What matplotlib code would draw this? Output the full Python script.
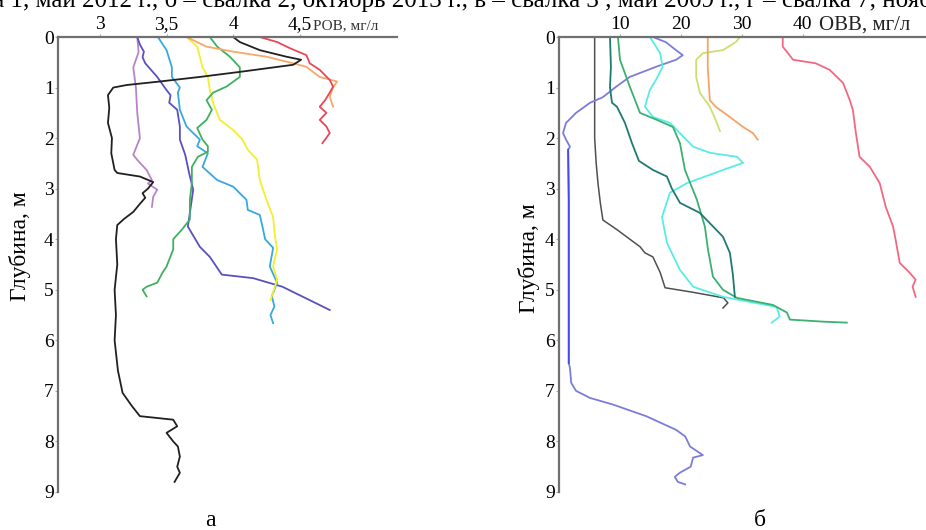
import matplotlib
matplotlib.use('Agg')
import matplotlib.pyplot as plt

plt.rcParams['font.family'] = ['Liberation Serif', 'DejaVu Serif']

# --- РОВ (panel а): depth, m / concentration, mg/l ---
pov_black_d = [0, 0.1, 0.26, 0.39, 0.45, 0.55, 0.62, 0.69, 0.79, 0.88, 0.95, 1.0, 1.15, 1.4, 1.7, 2.0,
               2.3, 2.63, 2.69, 2.76, 2.87, 3.0, 3.09, 3.18, 3.3, 3.46, 3.6, 3.72, 4.0, 4.5, 5.0, 5.5,
               6.0, 6.6, 7.04, 7.3, 7.5, 7.57, 7.7, 7.83, 8.0, 8.1, 8.3, 8.5, 8.62, 8.8]
pov_black_v = [4.0, 4.05, 4.2, 4.4, 4.51, 4.45, 4.25, 4.05, 3.75, 3.45, 3.2, 3.1, 3.06, 3.07, 3.06, 3.09,
               3.085, 3.11, 3.13, 3.3, 3.40, 3.36, 3.32, 3.34, 3.3, 3.25, 3.18, 3.13, 3.12, 3.13, 3.11, 3.12,
               3.11, 3.135, 3.17, 3.24, 3.3, 3.55, 3.58, 3.50, 3.55, 3.585, 3.60, 3.58, 3.60, 3.56]

pov_purple_d = [0, 0.3, 0.6, 1.0, 1.5, 2.0, 2.33, 2.43, 2.63, 2.83, 2.9, 3.02, 3.16, 3.36]
pov_purple_v = [3.28, 3.29, 3.25, 3.27, 3.28, 3.30, 3.25, 3.28, 3.35, 3.39, 3.36, 3.43, 3.40, 3.39]

pov_blue_d = [0, 0.15, 0.29, 0.4, 0.52, 0.79, 1.05, 1.15, 1.3, 1.44, 1.77, 2.03, 2.33, 2.7, 3.02, 3.48,
              3.75, 4.15, 4.35, 4.7, 4.77, 4.94, 5.4]
pov_blue_v = [3.28, 3.30, 3.33, 3.32, 3.34, 3.43, 3.50, 3.53, 3.52, 3.58, 3.60, 3.60, 3.64, 3.67, 3.70, 3.675,
              3.66, 3.75, 3.825, 3.915, 4.15, 4.37, 4.725]

pov_sky_d = [0, 0.26, 0.6, 0.79, 1.0, 1.1, 1.44, 1.77, 1.9, 2.03, 2.16, 2.3, 2.57, 2.83, 2.96, 3.22,
             3.42, 3.52, 3.75, 4.0, 4.17, 4.54, 4.86, 5.13, 5.33, 5.5, 5.66]
pov_sky_v = [3.435, 3.5, 3.54, 3.54, 3.6, 3.585, 3.6, 3.65, 3.70, 3.75, 3.73, 3.81, 3.77, 3.88, 4.0, 4.10,
             4.11, 4.2, 4.22, 4.24, 4.30, 4.275, 4.33, 4.29, 4.31, 4.28, 4.30]

pov_yellow_d = [0, 0.19, 0.39, 0.6, 0.79, 1.05, 1.31, 1.64, 1.84, 2.03, 2.23, 2.43, 2.83, 3.22, 3.56,
                3.87, 4.2, 4.54, 4.8, 5.13, 5.2]
pov_yellow_v = [3.65, 3.73, 3.75, 3.77, 3.81, 3.825, 3.85, 3.9, 4.0, 4.07, 4.11, 4.18, 4.2, 4.25, 4.30,
                4.31, 4.33, 4.30, 4.33, 4.29, 4.28]

pov_green_d = [0, 0.19, 0.39, 0.6, 0.79, 0.98, 1.1, 1.25, 1.44, 1.64, 1.8, 2.03, 2.16, 2.27, 2.37, 2.57,
               2.89, 3.22, 3.61, 3.81, 4.0, 4.2, 4.54, 4.66, 4.86, 4.94, 5.0, 5.13]
pov_green_v = [3.825, 3.88, 3.975, 4.05, 4.05, 3.95, 3.85, 3.80, 3.84, 3.80, 3.73, 3.77, 3.81, 3.81, 3.735, 3.69,
               3.69, 3.675, 3.675, 3.615, 3.55, 3.55, 3.50, 3.47, 3.43, 3.35, 3.32, 3.35]

pov_orange_d = [0, 0.19, 0.29, 0.39, 0.52, 0.59, 0.79, 0.88, 1.0, 1.18, 1.38]
pov_orange_v = [3.65, 3.80, 4.0, 4.25, 4.45, 4.55, 4.65, 4.78, 4.75, 4.725, 4.75]

pov_red_d = [0, 0.1, 0.22, 0.36, 0.52, 0.65, 0.85, 0.98, 1.1, 1.25, 1.38, 1.5, 1.64, 1.77, 1.9, 2.03, 2.1]
pov_red_v = [4.2, 4.33, 4.425, 4.55, 4.575, 4.65, 4.725, 4.75, 4.725, 4.69, 4.65, 4.70, 4.65, 4.70, 4.725, 4.69, 4.67]

# --- ОВВ (panel б) ---
ovv_black_d = [0, 2.0, 2.5, 2.9, 3.3, 3.62, 3.81, 4.15, 4.27, 4.35, 4.66, 4.96, 5.05, 5.16, 5.26, 5.36]
ovv_black_v = [5.85, 5.85, 6.1, 6.4, 6.8, 7.2, 9.5, 13.3, 14.1, 15.4, 16.6, 17.4, 22.0, 27.0, 27.7, 26.9]

ovv_teal_d = [0, 0.59, 0.99, 1.3, 1.38, 1.7, 2.1, 2.45, 2.63, 2.76, 3.0, 3.28, 3.48, 3.95, 4.27, 4.7, 5.14]
ovv_teal_v = [8.36, 8.52, 8.36, 8.69, 9.51, 10.82, 11.97, 13.11, 15.41, 17.7, 18.52, 19.84, 23.11, 26.89,
              28.03, 28.52, 28.85]

ovv_green_d = [0, 0.45, 0.99, 1.5, 1.64, 1.78, 2.1, 2.63, 3.22, 3.75, 4.2, 4.74, 5.0, 5.16, 5.3, 5.45,
               5.59, 5.63, 5.65]
ovv_green_v = [9.67, 10.0, 11.64, 13.28, 16.07, 18.69, 19.84, 20.66, 22.62, 23.93, 24.43, 25.25, 26.89,
               29.18, 35.08, 37.38, 37.87, 43.28, 47.21]

ovv_cyan_d = [0, 0.32, 0.59, 0.85, 1.05, 1.38, 1.58, 1.7, 2.17, 2.29, 2.37, 2.49, 2.63, 2.89, 3.08, 3.56,
              4.07, 4.6, 4.94, 5.14, 5.34, 5.53, 5.65]
ovv_cyan_v = [14.9, 16.6, 17.0, 15.9, 14.9, 14.1, 15.4, 18.2, 22.0, 24.75, 29.2, 30.2, 26.9, 21.0, 18.2, 16.9,
              17.7, 19.8, 22.0, 26.9, 35.7, 36.2, 34.9]

ovv_violet_d = [0, 0.1, 0.26, 0.36, 0.45, 0.59, 0.79, 0.99, 1.19, 1.3, 1.5, 1.7, 1.9, 2.03, 2.17, 2.23,
                3.2, 5.8, 6.45, 6.55, 6.84, 7.0, 7.14, 7.27, 7.5, 7.77, 7.9, 8.1, 8.27, 8.32, 8.5, 8.62,
                8.7, 8.8, 8.85]
ovv_violet_v = [15.4, 17.5, 19.2, 20.3, 19.2, 15.9, 11.6, 9.3, 7.2, 5.1, 2.8, 1.15, 0.66, 1.15, 1.8, 1.5,
                1.6, 1.6, 1.6, 1.8, 2.0, 2.8, 5.1, 8.85, 14.3, 19.2, 20.7, 21.5, 23.6, 22.0, 21.6, 19.8,
                19.0, 19.5, 20.7]

ovv_lime_d = [0, 0.1, 0.26, 0.32, 0.45, 0.79, 1.1, 1.38, 1.64, 1.86]
ovv_lime_v = [29.7, 29.0, 26.9, 23.6, 22.5, 22.5, 23.1, 24.75, 25.7, 26.4]

ovv_orange_d = [0, 0.6, 1.25, 1.38, 1.58, 1.78, 1.9, 2.03]
ovv_orange_v = [24.4, 24.4, 24.75, 25.7, 28.0, 30.2, 31.8, 32.6]

ovv_pink_d = [0, 0.19, 0.45, 0.52, 0.65, 0.91, 1.25, 1.44, 1.9, 2.37, 2.57, 2.89, 3.36, 3.75, 4.0, 4.47,
              4.66, 4.8, 4.94, 5.14]
ovv_pink_v = [36.7, 36.7, 38.4, 42.1, 44.4, 46.6, 47.7, 48.2, 48.7, 49.3, 51.0, 52.6, 53.6, 54.8, 55.2,
              55.9, 57.5, 58.5, 58.0, 58.5]

depth_ticks = [0, 1, 2, 3, 4, 5, 6, 7, 8, 9]
pov_ticks = [3, 3.5, 4, 4.5]
pov_labels = ['3', '3,5', '4', '4,5']
ovv_ticks = [10, 20, 30, 40]
ovv_labels = ['10', '20', '30', '40']

# caption of the source figure, cut by the top edge of the picture
caption = ('лка 1, май 2012 г., б – свалка 2, октябрь 2013 г., в – свалка 3 , '
           'май 2009 г., г – свалка 7, ноябрь')

W, H = 926, 530
fig = plt.figure(figsize=(W / 100, H / 100), dpi=100)


def px_axes(x0, y0, x1, y1):
    return fig.add_axes([x0 / W, 1 - y1 / H, (x1 - x0) / W, (y1 - y0) / H])


def style(ax):
    for s in ['right', 'bottom']:
        ax.spines[s].set_visible(False)
    for s in ['left', 'top']:
        ax.spines[s].set_color('#707070')
        ax.spines[s].set_linewidth(1.6)
    ax.xaxis.set_ticks_position('top')
    ax.tick_params(length=2, width=0.8, color='#aaaaaa', labelsize=14, pad=1)
    ax.set_ylim(9, 0)
    ax.set_yticks(depth_ticks)
    ax.set_ylabel('Глубина, м', fontsize=17)


ax1 = px_axes(58, 37, 397, 492)
style(ax1)
ax1.set_xlim(2.685, 5.23)
ax1.set_xticks(pov_ticks, pov_labels)
ax1.yaxis.set_label_coords(-0.08, 0.54)

lw = 1.3
ax1.plot(pov_purple_v, pov_purple_d, color='#b884c8', lw=lw)
ax1.plot(pov_blue_v, pov_blue_d, color='#5a50c0', lw=lw)
ax1.plot(pov_sky_v, pov_sky_d, color='#38a8e0', lw=lw)
ax1.plot(pov_yellow_v, pov_yellow_d, color='#f2ee30', lw=lw)
ax1.plot(pov_green_v, pov_green_d, color='#40b060', lw=lw)
ax1.plot(pov_orange_v, pov_orange_d, color='#f8a868', lw=lw)
ax1.plot(pov_red_v, pov_red_d, color='#e84858', lw=lw)
ax1.plot(pov_black_v, pov_black_d, color='#202020', lw=lw)
ax1.text(4.6, 1.01, 'РОВ, мг/л', transform=ax1.get_xaxis_transform(), fontsize=11,
         ha='left', va='bottom', color='#333333')

ax2 = px_axes(559, 37, 926, 492)
style(ax2)
ax2.set_xlim(0, 60.2)
ax2.set_xticks(ovv_ticks, ovv_labels)
ax2.yaxis.set_label_coords(-0.052, 0.515)

ax2.plot(ovv_black_v, ovv_black_d, color='#505050', lw=1.1)
ax2.plot(ovv_violet_v, ovv_violet_d, color='#7c7cdc', lw=lw)
ax2.plot(ovv_violet_v[15:19], ovv_violet_d[15:19], color='#4848f0', lw=lw)
ax2.plot(ovv_cyan_v, ovv_cyan_d, color='#58ece6', lw=lw)
ax2.plot(ovv_green_v, ovv_green_d, color='#3cb070', lw=lw)
ax2.plot(ovv_teal_v, ovv_teal_d, color='#1f7a72', lw=lw)
ax2.plot(ovv_lime_v, ovv_lime_d, color='#cce070', lw=lw)
ax2.plot(ovv_orange_v, ovv_orange_d, color='#f4a468', lw=lw)
ax2.plot(ovv_pink_v, ovv_pink_d, color='#f26882', lw=lw)
ax2.text(42.6, 1.006, 'ОВВ, мг/л', transform=ax2.get_xaxis_transform(), fontsize=15,
         ha='left', va='bottom', color='#222222')

fig.text(210 / W, 1 - 521 / H, 'а', ha='center', va='center', fontsize=17)
fig.text(760 / W, 1 - 521 / H, 'б', ha='center', va='center', fontsize=17)
fig.text(-31 / W, 1 - 7 / H, caption, ha='left', va='baseline', fontsize=18)

fig.savefig('out.png', dpi=100)
